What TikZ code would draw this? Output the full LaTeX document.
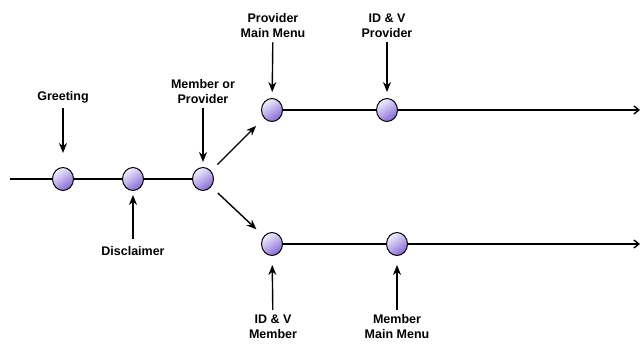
\documentclass[tikz,border=0pt]{standalone}
\usepackage{fontspec}
\setmainfont{Liberation Sans}
\usetikzlibrary{arrows.meta,positioning,shapes.geometric}
\definecolor{ballhi}{HTML}{F2F0FD}
\definecolor{balllo}{HTML}{8468D6}
\tikzset{font=\fontsize{12.5}{15}\selectfont\bfseries}
\tikzset{state/.style={ellipse, draw, line width=1pt, minimum width=21pt, minimum height=23pt,
    inner sep=0pt, top color=ballhi, bottom color=balllo, shading angle=35}}
\tikzset{lbl/.style={align=center, inner sep=1pt}}
\tikzset{cue/.style={line width=1.4pt, -{Stealth[length=10pt,width=8pt]}}}
\tikzset{flow/.style={line width=1.4pt}}

\begin{document}
\begin{tikzpicture}[x=1pt, y=-1pt]
\useasboundingbox (0,0) rectangle (642,345);
% timeline
\coordinate (start) at (10,179);
\node[state] (greet) at (63,179) {};
\node[state] (discl) at (133,179) {};
\node[state] (mop) at (203,179) {};
\node[state] (pmenu) at (272,110) {};
\node[state] (idvp) at (387,110) {};
\node[state] (idvm) at (272,244) {};
\node[state] (mmenu) at (397,244) {};
\coordinate (pend) at (640,110);
\coordinate (mend) at (640,244);
\draw[flow] (start) -- (greet) -- (discl) -- (mop);
\draw[flow] (pmenu) -- (idvp);
\draw[flow, -{Straight Barb[length=5pt,width=8pt]}] (idvp) -- (pend);
\draw[flow] (idvm) -- (mmenu);
\draw[flow, -{Straight Barb[length=5pt,width=8pt]}] (mmenu) -- (mend);
% branches
\draw[cue, shorten <=9pt, shorten >=11pt] (mop) -- (pmenu);
\draw[cue, shorten <=9pt, shorten >=10pt] (mop) -- (idvm);
% labels
\node[lbl] (greetl) at (63,97) {Greeting};
\node[lbl] (mopl) at (203,92) {Member or\\Provider};
\node[lbl] (discll) at (133,251) {Disclaimer};
\node[lbl] (pmenul) at (273,26) {Provider\\Main Menu};
\node[lbl] (idvpl) at (387,26) {ID \& V\\Provider};
\node[lbl] (idvml) at (273,327) {ID \& V\\Member};
\node[lbl] (mmenul) at (397,327) {Member\\Main Menu};
\draw[cue, shorten <=4pt, shorten >=14pt] (greetl) -- (greet);
\draw[cue, shorten <=3pt, shorten >=5pt] (mopl) -- (mop);
\draw[cue, shorten <=6pt, shorten >=4pt] (discll) -- (discl);
\draw[cue, shorten <=3pt, shorten >=6pt] (pmenul) -- (pmenu);
\draw[cue, shorten <=3pt, shorten >=6pt] (idvpl) -- (idvp);
\draw[cue, shorten <=4pt, shorten >=9pt] (idvml) -- (idvm);
\draw[cue, shorten <=4pt, shorten >=9pt] (mmenul) -- (mmenu);
\end{tikzpicture}
\end{document}
